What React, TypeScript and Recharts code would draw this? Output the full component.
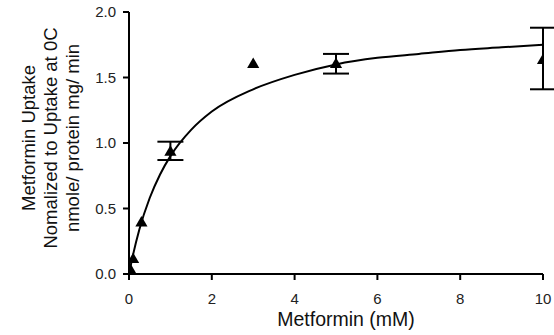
import { ComposedChart, Line, Scatter, ErrorBar, XAxis, YAxis } from "recharts";

// measured points
const conc = [0.03, 0.1, 0.3, 1, 3, 5, 10];
const uptake = [0.03, 0.11, 0.39, 0.93, 1.6, 1.6, 1.63];
const errLow = [null, null, null, 0.06, null, 0.07, 0.22];
const errHigh = [null, null, null, 0.08, null, 0.08, 0.25];

// fitted curve
const curveX = [0, 0.1, 0.25, 0.5, 0.75, 1, 1.5, 2, 3, 4, 5, 6, 7, 8, 9, 10];
const curveY = [0, 0.15, 0.34, 0.58, 0.76, 0.9, 1.1, 1.24, 1.41, 1.52, 1.6, 1.65, 1.68, 1.71, 1.73, 1.75];

const xTicks = [0, 2, 4, 6, 8, 10];
const yTicks = [0, 0.5, 1, 1.5, 2];

const points = conc.map((x, i) => ({
  x,
  y: uptake[i],
  err: errLow[i] == null ? undefined : [errLow[i], errHigh[i]],
}));
const curve = curveX.map((x, i) => ({ x, y: curveY[i] }));

const FONT = "Liberation Sans, Arial, sans-serif";

const YLabel = () => (
  <text
    transform="translate(57,138) rotate(-90)"
    textAnchor="middle"
    fontFamily={FONT}
    fontSize={18.5}
    fill="#111"
  >
    <tspan x={0} dy={-22}>Metformin Uptake</tspan>
    <tspan x={0} dy={22}>Nomalized to Uptake at 0C</tspan>
    <tspan x={0} dy={22}>nmole/ protein mg/ min</tspan>
  </text>
);

export default function App() {
  return (
    <div style={{ position: "absolute", left: 0, top: 0, background: "#fff" }}>
      <ComposedChart width={554} height={335} margin={{ top: 12, right: 11, left: 0, bottom: 0 }}>
        <XAxis
          type="number"
          dataKey="x"
          domain={[0, 10]}
          ticks={xTicks}
          height={61}
          stroke="#000"
          strokeWidth={2}
          tickSize={6}
          tickMargin={13}
          tick={{ fill: "#222", fontSize: 15, fontFamily: FONT }}
          tickLine={{ stroke: "#000", strokeWidth: 2 }}
          label={{ value: "Metformin (mM)", position: "insideBottom", offset: 9, dx: 10, fill: "#111", fontSize: 19.5, fontFamily: FONT }}
          allowDataOverflow
        />
        <YAxis
          type="number"
          dataKey="y"
          domain={[0, 2]}
          ticks={yTicks}
          width={129}
          stroke="#000"
          strokeWidth={2}
          tickSize={6}
          tickMargin={7}
          tickFormatter={(v: number) => v.toFixed(1)}
          tick={{ fill: "#222", fontSize: 15, fontFamily: FONT }}
          tickLine={{ stroke: "#000", strokeWidth: 2 }}
          label={<YLabel />}
        />
        <Line
          data={curve}
          dataKey="y"
          type="monotone"
          stroke="#000"
          strokeWidth={2}
          dot={false}
          isAnimationActive={false}
        />
        <Scatter data={points} dataKey="y" fill="#000" shape="triangle" isAnimationActive={false}>
          <ErrorBar dataKey="err" direction="y" width={13} stroke="#000" strokeWidth={2} />
        </Scatter>
      </ComposedChart>
    </div>
  );
}
